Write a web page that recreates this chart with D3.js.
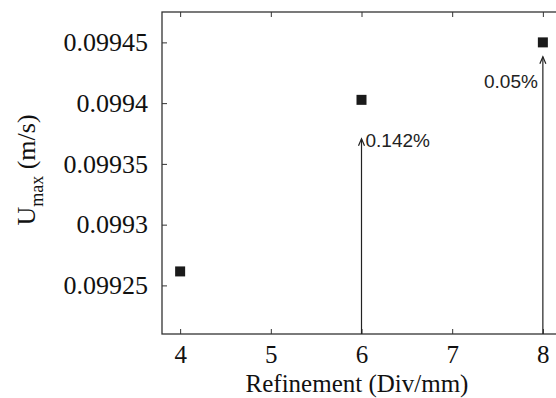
<!DOCTYPE html>
<html>
<head>
<meta charset="utf-8">
<script src="https://cdn.jsdelivr.net/npm/d3@7"></script>
<style>
  body { margin: 0; background: #fff; }
  svg { display: block; }
</style>
</head>
<body>
<div id="chart"></div>
<script>
// data
const refinement = [4, 6, 8];
const umax = [0.0992615, 0.0994027, 0.09945];
const xTicks = [4, 5, 6, 7, 8];
const yTicks = [0.09925, 0.0993, 0.09935, 0.0994, 0.09945];
const arrowX = [6, 8];
const arrowTip = [0.0993706, 0.0994382];
const arrowLabels = ["0.142%", "0.05%"];

const width = 556, height = 398;
const margin = {left: 162, top: 12, bottom: 64};
const plotRight = 561;

const svg = d3.select("#chart").append("svg")
  .attr("width", width)
  .attr("height", height);

const x = d3.scaleLinear().domain([3.8, 8.2]).range([margin.left, plotRight]);
const y = d3.scaleLinear().domain([0.09921, 0.099475]).range([height - margin.bottom, margin.top]);

const serif = "'Liberation Serif', 'Times New Roman', serif";
const sans = "'Liberation Sans', Arial, sans-serif";
const axisColor = "#333";

// frame
svg.append("rect")
  .attr("x", x.range()[0])
  .attr("y", y.range()[1])
  .attr("width", x.range()[1] - x.range()[0])
  .attr("height", y.range()[0] - y.range()[1])
  .attr("fill", "none")
  .attr("stroke", axisColor)
  .attr("stroke-width", 1.3);

// bottom axis, ticks inward
const xAxis = svg.append("g")
  .attr("transform", `translate(0,${y.range()[0]})`)
  .call(d3.axisBottom(x).tickValues(xTicks).tickSizeInner(-5).tickSizeOuter(0).tickPadding(11).tickFormat(d3.format("d")));
xAxis.select(".domain").remove();
xAxis.selectAll("line").attr("stroke", axisColor);
xAxis.selectAll("text").attr("font-family", serif).attr("font-size", 25).attr("fill", "#111");

// top ticks
svg.append("g")
  .attr("transform", `translate(0,${y.range()[1]})`)
  .call(d3.axisTop(x).tickValues(xTicks).tickSizeInner(-5).tickSizeOuter(0).tickFormat(""))
  .call(g => g.select(".domain").remove())
  .selectAll("line").attr("stroke", axisColor);

// left axis
const yAxis = svg.append("g")
  .attr("transform", `translate(${x.range()[0]},0)`)
  .call(d3.axisLeft(y).tickValues(yTicks).tickSizeInner(-5).tickSizeOuter(0).tickPadding(14).tickFormat(d => String(+d.toFixed(5))));
yAxis.select(".domain").remove();
yAxis.selectAll("line").attr("stroke", axisColor);
yAxis.selectAll("text").attr("font-family", serif).attr("font-size", 26).attr("fill", "#111");

// right ticks
svg.append("g")
  .attr("transform", `translate(${x.range()[1]},0)`)
  .call(d3.axisRight(y).tickValues(yTicks).tickSizeInner(-5).tickSizeOuter(0).tickFormat(""))
  .call(g => g.select(".domain").remove())
  .selectAll("line").attr("stroke", axisColor);

// axis titles
svg.append("text")
  .attr("x", 357)
  .attr("y", 392)
  .attr("text-anchor", "middle")
  .attr("font-family", serif)
  .attr("font-size", 25)
  .attr("fill", "#111")
  .text("Refinement (Div/mm)");

const yt = svg.append("text")
  .attr("transform", "translate(35,170) rotate(-90)")
  .attr("text-anchor", "middle")
  .attr("font-family", serif)
  .attr("font-size", 26)
  .attr("fill", "#111");
yt.append("tspan").text("U");
yt.append("tspan").attr("font-size", 18).attr("dy", 8).text("max");
yt.append("tspan").attr("dy", -8).text(" (m/s)");

// arrows
const arrows = arrowX.map((d, i) => ({x: d, tip: arrowTip[i], label: arrowLabels[i]}));
const ag = svg.append("g").attr("stroke", "#222").attr("stroke-width", 1.2).attr("fill", "none");
arrows.forEach(a => {
  const px = x(a.x), py = y(a.tip);
  ag.append("line").attr("x1", px).attr("x2", px).attr("y1", y.range()[0]).attr("y2", py);
  ag.append("path").attr("d", `M${px - 3},${py + 7}L${px},${py}L${px + 3},${py + 7}`);
});

svg.append("text")
  .attr("x", x(arrows[0].x) + 4)
  .attr("y", y(arrows[0].tip) + 8)
  .attr("font-family", sans)
  .attr("font-size", 19)
  .attr("fill", "#222")
  .text(arrows[0].label);

svg.append("text")
  .attr("x", x(arrows[1].x) - 5)
  .attr("y", y(arrows[1].tip) + 31)
  .attr("text-anchor", "end")
  .attr("font-family", sans)
  .attr("font-size", 19)
  .attr("fill", "#222")
  .text(arrows[1].label);

// markers
svg.append("g")
  .selectAll("rect")
  .data(refinement.map((d, i) => ({x: d, y: umax[i]})))
  .join("rect")
  .attr("x", d => x(d.x) - 5)
  .attr("y", d => y(d.y) - 5)
  .attr("width", 10)
  .attr("height", 10)
  .attr("fill", "#1a1a1a");
</script>
</body>
</html>
